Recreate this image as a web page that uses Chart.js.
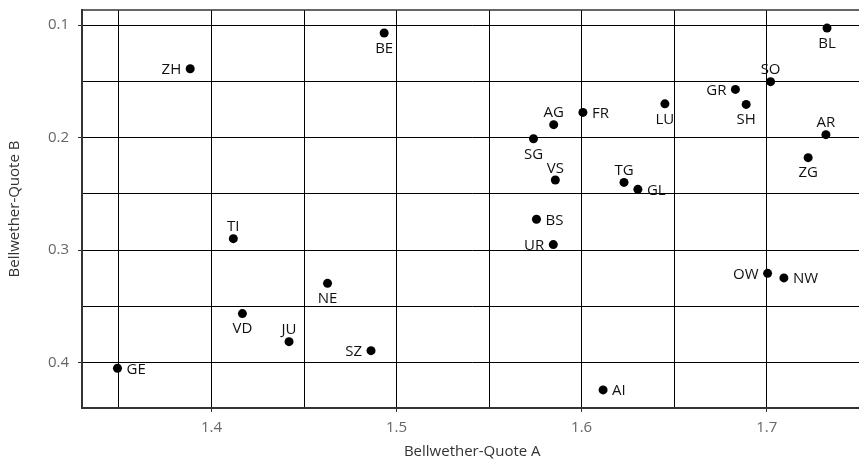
<!DOCTYPE html>
<html>
<head>
<meta charset="utf-8">
<script src="https://cdn.jsdelivr.net/npm/chart.js@4/dist/chart.umd.min.js"></script>
<style>
    html, body { margin: 0; padding: 0; background: #fff; overflow: hidden; }
    #wrap { width: 867px; height: 462px; position: relative; }
</style>
</head>
<body>
<div id="wrap"><canvas id="chart-quotes"></canvas></div>
<script>
const CANTONS = ['ZH', 'BE', 'LU', 'UR', 'SZ', 'OW', 'NW', 'GL', 'ZG', 'FR', 'SO', 'BS', 'BL',
                 'SH', 'AR', 'AI', 'SG', 'GR', 'AG', 'TG', 'TI', 'VD', 'VS', 'NE', 'GE', 'JU'];
const QUOTE_A = [1.3885, 1.4933, 1.6450, 1.5847, 1.4862, 1.7005, 1.7093, 1.6304, 1.7224, 1.6007, 1.7021, 1.5756, 1.7326,
                 1.6889, 1.7320, 1.6116, 1.5740, 1.6831, 1.5849, 1.6229, 1.4118, 1.4167, 1.5858, 1.4627, 1.3492, 1.4419];
const QUOTE_B = [0.1388, 0.1071, 0.1700, 0.2951, 0.3893, 0.3206, 0.3247, 0.2460, 0.2178, 0.1776, 0.1503, 0.2726, 0.1027,
                 0.1705, 0.1974, 0.4242, 0.2010, 0.1572, 0.1885, 0.2398, 0.2898, 0.3564, 0.2377, 0.3295, 0.4050, 0.3813];

const X_GRID   = [1.35, 1.4, 1.45, 1.5, 1.55, 1.6, 1.65, 1.7];
const X_LABELS = ['1.4', '1.5', '1.6', '1.7'];
const Y_GRID   = [0.1, 0.15, 0.2, 0.25, 0.3, 0.35, 0.4];
const Y_LABELS = ['0.1', '0.2', '0.3', '0.4'];

// Beschriftung links/rechts/oben/unten vom Punkt
const LABEL_SIDE = {
    ZH: 'left', BE: 'below', LU: 'below', UR: 'left', SZ: 'left', OW: 'left', NW: 'right',
    GL: 'right', ZG: 'below', FR: 'right', SO: 'above', BS: 'right', BL: 'below', SH: 'below',
    AR: 'above', AI: 'right', SG: 'below', GR: 'left', AG: 'above', TG: 'above', TI: 'above',
    VD: 'below', VS: 'above', NE: 'below', GE: 'right', JU: 'above'
};

function paddedRange(arr) {
    const lo = Math.min(...arr), hi = Math.max(...arr);
    const pad = (hi - lo) * 0.05;
    return [lo - pad, hi + pad];
}

const [xMin, xMax] = paddedRange(QUOTE_A);
const [yMin, yMax] = paddedRange(QUOTE_B);

const FONT = "'Open Sans', 'Noto Sans', sans-serif";
Chart.defaults.font.family = FONT;
Chart.defaults.font.size = 15;

const fmt = v => String(Math.round(v * 100) / 100);

const pointLabels = {
    id: 'pointLabels',
    afterDatasetsDraw(chart) {
        const ctx = chart.ctx;
        const meta = chart.getDatasetMeta(0);
        const capHalf = 15 * 0.714 / 2;
        ctx.save();
        ctx.font = '15px ' + FONT;
        ctx.fillStyle = '#111';
        ctx.textBaseline = 'alphabetic';
        meta.data.forEach((pt, i) => {
            const name = CANTONS[i];
            const side = LABEL_SIDE[name] || 'right';
            let x = pt.x, y = pt.y + capHalf;
            if (side === 'left')  { ctx.textAlign = 'right';  x -= 9; }
            if (side === 'right') { ctx.textAlign = 'left';   x += 9; }
            if (side === 'above') { ctx.textAlign = 'center'; y -= 12.7; }
            if (side === 'below') { ctx.textAlign = 'center'; y += 14.5; }
            ctx.fillText(name, x, y);
        });
        ctx.restore();
    }
};

const topBorder = {
    id: 'topBorder',
    beforeDatasetsDraw(chart) {
        const { ctx, chartArea } = chart;
        ctx.save();
        ctx.strokeStyle = '#333';
        ctx.lineWidth = 1.5;
        ctx.beginPath();
        ctx.moveTo(chartArea.left, chartArea.top);
        ctx.lineTo(chartArea.right, chartArea.top);
        ctx.stroke();
        ctx.restore();
    }
};

new Chart(document.getElementById('chart-quotes').getContext('2d'), {
    type: 'scatter',
    data: {
        datasets: [{
            label: 'Bellwether',
            data: QUOTE_A.map((a, i) => ({ x: a, y: QUOTE_B[i] })),
            backgroundColor: '#000',
            borderWidth: 0,
            pointRadius: 4.5,
            pointHoverRadius: 4.5,
        }]
    },
    options: {
        responsive: true,
        maintainAspectRatio: false,
        animation: false,
        layout: { padding: { top: 10, right: 0, left: 0, bottom: 0 } },
        plugins: {
            legend: { display: false },
            tooltip: { enabled: false },
        },
        scales: {
            x: {
                type: 'linear',
                min: xMin, max: xMax,
                afterBuildTicks: s => { s.ticks = X_GRID.map(v => ({ value: v })); },
                afterFit: s => { s.height = 54; s.paddingLeft = 0; s.paddingRight = 0; },
                ticks: {
                    color: '#666',
                    padding: 7,
                    maxRotation: 0,
                    autoSkip: false,
                    callback: v => X_LABELS.includes(fmt(v)) ? fmt(v) : '',
                },
                grid: {
                    color: '#000',
                    lineWidth: 1,
                    tickLength: 4,
                    tickColor: c => X_LABELS.includes(fmt(c.tick.value)) ? '#333' : 'rgba(0,0,0,0)',
                },
                border: { color: '#333', width: 2 },
                title: {
                    display: true,
                    text: 'Bellwether-Quote A',
                    color: '#333',
                    font: { size: 15 },
                    padding: { top: 0, bottom: 1 },
                },
            },
            y: {
                type: 'linear',
                reverse: true,
                min: yMin, max: yMax,
                afterBuildTicks: s => { s.ticks = Y_GRID.map(v => ({ value: v })); },
                afterFit: s => { s.width = 82; s.paddingTop = 0; s.paddingBottom = 0; },
                ticks: {
                    color: '#666',
                    padding: 9,
                    autoSkip: false,
                    callback: v => Y_LABELS.includes(fmt(v)) ? fmt(v) : '',
                },
                grid: {
                    color: '#000',
                    lineWidth: 1,
                    tickLength: 4,
                    tickColor: c => Y_LABELS.includes(fmt(c.tick.value)) ? '#333' : 'rgba(0,0,0,0)',
                },
                border: { color: '#333', width: 2 },
                title: {
                    display: true,
                    text: 'Bellwether-Quote B',
                    color: '#333',
                    font: { size: 15 },
                    padding: { top: 6, bottom: 0 },
                },
            }
        }
    },
    plugins: [pointLabels, topBorder]
});
</script>
</body>
</html>
